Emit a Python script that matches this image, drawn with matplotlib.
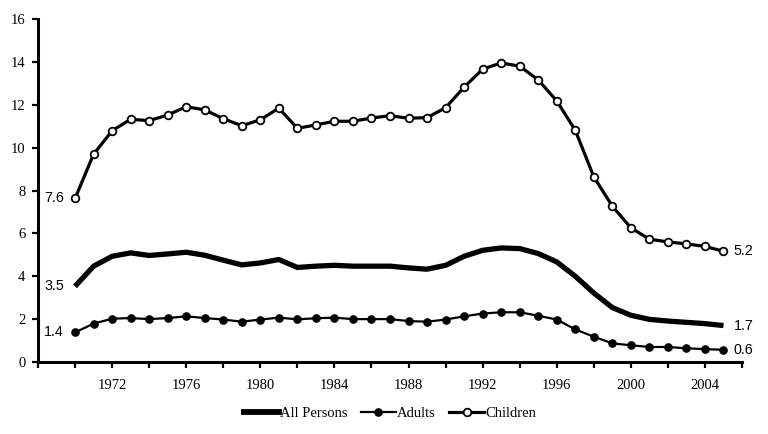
import matplotlib
matplotlib.use("Agg")
import matplotlib.pyplot as plt
from matplotlib.lines import Line2D

years = list(range(1970, 2006))

all_persons = [3.53, 4.47, 4.93, 5.09, 4.97, 5.04, 5.12, 4.98, 4.75, 4.53,
               4.62, 4.78, 4.41, 4.47, 4.51, 4.47, 4.47, 4.47, 4.39, 4.33,
               4.51, 4.93, 5.21, 5.32, 5.29, 5.06, 4.67, 4.00, 3.22, 2.54,
               2.18, 1.99, 1.91, 1.85, 1.79, 1.70]

adults = [1.38, 1.79, 2.02, 2.05, 2.00, 2.05, 2.13, 2.05, 1.98, 1.88,
          1.98, 2.07, 1.99, 2.04, 2.07, 2.00, 2.00, 2.00, 1.91, 1.88,
          1.98, 2.13, 2.26, 2.32, 2.32, 2.16, 1.98, 1.52, 1.18, 0.87,
          0.78, 0.70, 0.70, 0.64, 0.60, 0.57]

children = [7.63, 9.69, 10.79, 11.32, 11.26, 11.52, 11.91, 11.76, 11.35, 11.02,
            11.30, 11.84, 10.90, 11.06, 11.23, 11.23, 11.38, 11.49, 11.37, 11.40,
            11.86, 12.82, 13.66, 13.95, 13.80, 13.16, 12.18, 10.81, 8.64, 7.27,
            6.26, 5.73, 5.60, 5.51, 5.39, 5.17]

x_tick_labels = ["1972", "1976", "1980", "1984", "1988", "1992", "1996", "2000", "2004"]
y_ticks = [0, 2, 4, 6, 8, 10, 12, 14, 16]

serif = "Liberation Serif"
sans = "Liberation Sans"

fig = plt.figure(figsize=(7.68, 4.34), dpi=100)
ax = fig.add_axes([38/768, 72/434, (742-38)/768, (362-19)/434])

ax.plot(years, all_persons, color="black", lw=3.8, solid_capstyle="butt", zorder=3)
ax.plot(years, adults, color="black", lw=1.6, marker="o", ms=5.2,
        markerfacecolor="black", markeredgecolor="black", zorder=3)
ax.plot(years, children, color="black", lw=2.3, marker="o", ms=5.5,
        markerfacecolor="white", markeredgecolor="black", markeredgewidth=1.3, zorder=4)

ax.set_xlim(1968, 2006)
ax.set_ylim(0, 16)
ax.set_yticks(y_ticks)
ax.set_yticklabels([str(v) for v in y_ticks], fontfamily=serif, fontsize=10.5)
ax.set_xticks(list(range(1968, 2007, 2)), minor=False)
ax.set_xticklabels(["" if str(y) not in x_tick_labels else str(y) for y in range(1968, 2007, 2)],
                   fontfamily=serif, fontsize=10.5)

for s in ["top", "right"]:
    ax.spines[s].set_visible(False)
for s in ["left", "bottom"]:
    ax.spines[s].set_linewidth(2.2)
ax.tick_params(axis="both", direction="out", length=4, width=1.6, colors="black")
ax.tick_params(axis="y", pad=5)
ax.tick_params(axis="x", pad=8)

for series in [children, all_persons, adults]:
    ax.annotate(f"{series[0]:.1f}", (years[0], series[0]), xytext=(-11, 0),
                textcoords="offset pixels", ha="right", va="center",
                fontfamily=sans, fontsize=10.3)
    ax.annotate(f"{series[-1]:.1f}", (years[-1], series[-1]), xytext=(10, 0),
                textcoords="offset pixels", ha="left", va="center",
                fontfamily=sans, fontsize=10.3)

handles = [
    Line2D([], [], color="black", lw=4.2),
    Line2D([], [], color="black", lw=1.6, marker="o", ms=5.2, markerfacecolor="black"),
    Line2D([], [], color="black", lw=2.3, marker="o", ms=5.5, markerfacecolor="white",
           markeredgewidth=1.3),
]
fig.legend(handles, ["All Persons", "Adults", "Children"], loc="center",
           bbox_to_anchor=(390/768, 1 - 413/434), ncol=3, frameon=False,
           prop={"family": serif, "size": 10.5}, handlelength=2.4,
           handletextpad=0.1, columnspacing=0.9, borderpad=0)

fig.savefig("out.png", dpi=100)
